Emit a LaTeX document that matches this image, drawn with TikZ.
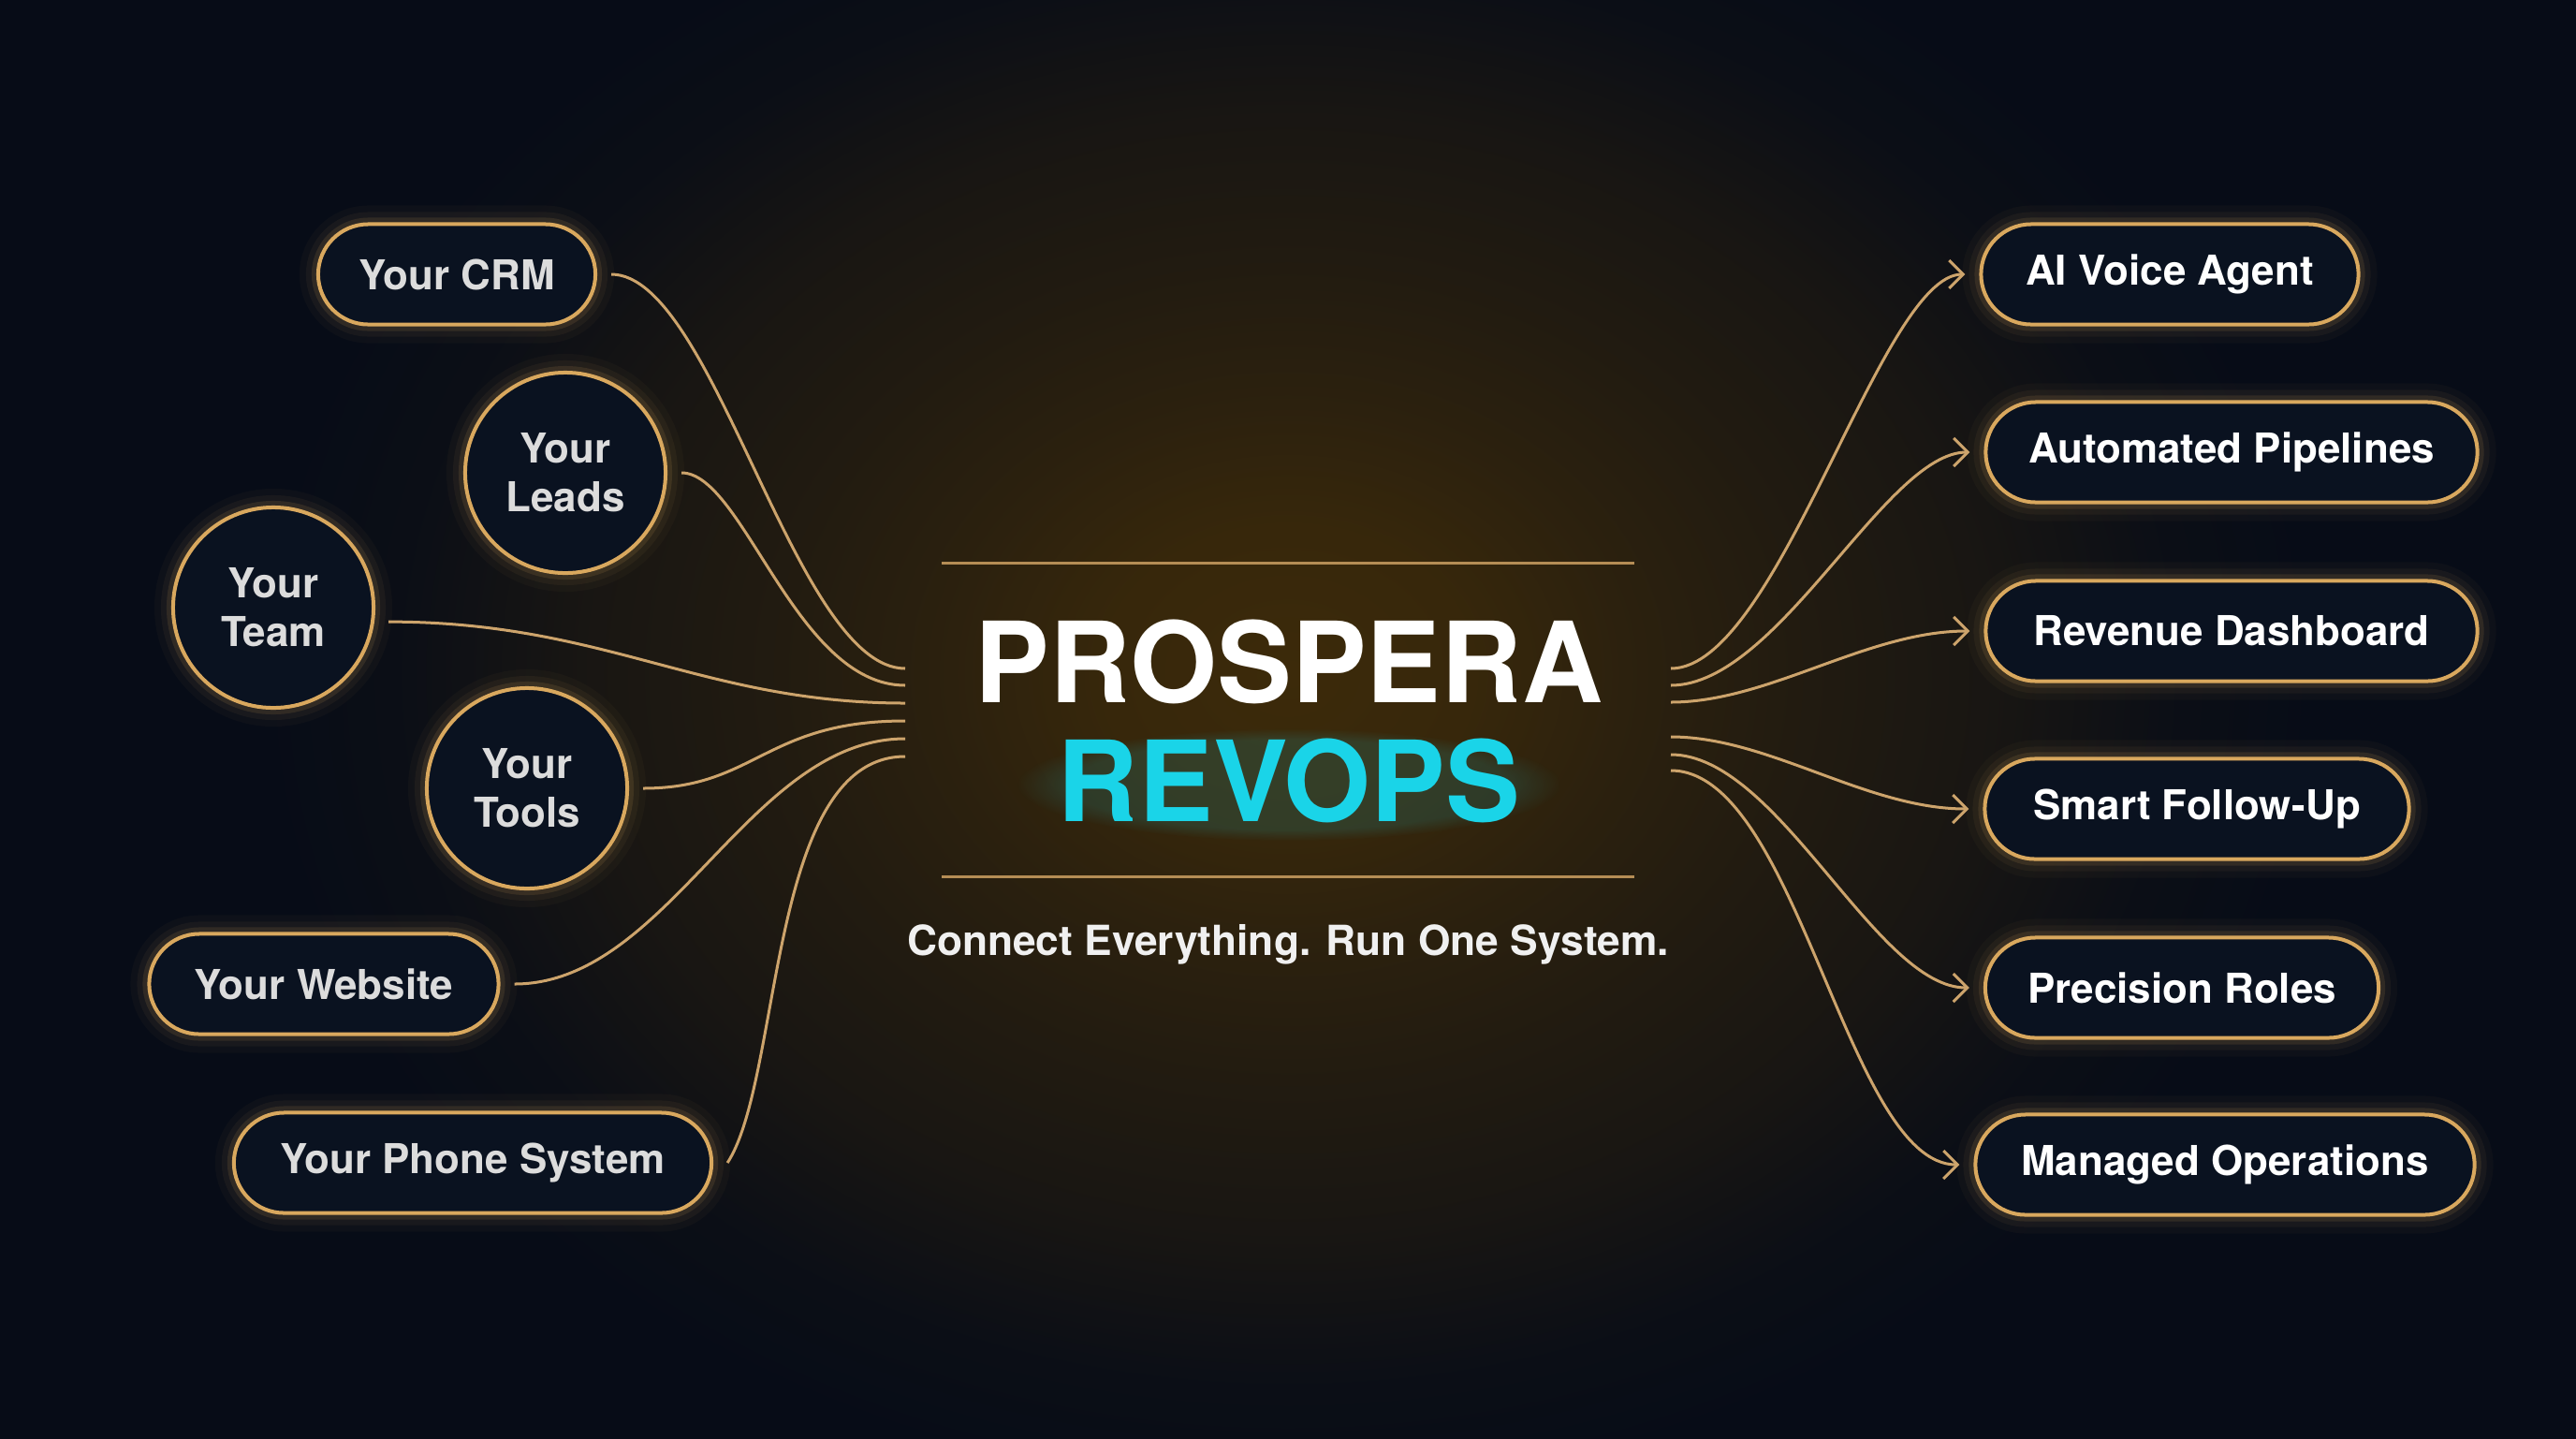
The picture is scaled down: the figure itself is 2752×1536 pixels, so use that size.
\documentclass[tikz,border=0pt]{standalone}
\usepackage{fontspec}
\setmainfont{TeX Gyre Heros}
\usetikzlibrary{arrows.meta,fadings}
\definecolor{bgc}{HTML}{070C17}
\definecolor{glowc}{HTML}{3C2A0A}
\definecolor{gold}{HTML}{D9A85E}
\definecolor{linec}{HTML}{CDA46C}
\definecolor{divc}{HTML}{B58D55}
\definecolor{nodefill}{HTML}{0A1220}
\definecolor{lefttext}{HTML}{DCDCDC}
\definecolor{cyanc}{HTML}{1AD4E8}
\pgfdeclareradialshading{warmglow}{\pgfpoint{0bp}{0bp}}{color(0bp)=(glowc); color(4bp)=(glowc!90!bgc); color(7.5bp)=(glowc!68!bgc); color(11bp)=(glowc!50!bgc); color(15bp)=(glowc!33!bgc); color(19bp)=(glowc!8!bgc); color(22bp)=(bgc); color(50bp)=(bgc)}
\newcommand\nfont{\fontsize{12.5}{14.8}\selectfont\bfseries}
\newcommand\tfont{\fontsize{34}{40}\selectfont\bfseries}
\newcommand\sfont{\fontsize{12.6}{16}\selectfont\bfseries}
\tikzset{
  glow/.style={preaction={draw=gold,line width=0.40cm,opacity=0.035},
               preaction={draw=gold,line width=0.26cm,opacity=0.06},
               preaction={draw=gold,line width=0.14cm,opacity=0.12}},
  pill/.style={glow, draw=gold, line width=0.04cm, fill=nodefill, rounded corners=0.535cm,
               minimum height=1.07cm, inner xsep=0pt, outer sep=0.17cm, font=\nfont},
  circ/.style={glow, circle, draw=gold, line width=0.04cm, fill=nodefill, minimum size=2.14cm,
               inner sep=0pt, outer sep=0.17cm, align=center, font=\nfont, text=lefttext},
  lnode/.style={pill, text=lefttext},
  rnode/.style={pill, text=white},
  conn/.style={draw=linec, line width=0.03cm},
  arr/.style={conn, -{Straight Barb[length=0.15cm,width=0.30cm]}},
  divider/.style={draw=divc, line width=0.03cm},
}
\begin{document}
\begin{tikzpicture}[x=0.01cm,y=-0.01cm]
\useasboundingbox (0,0) rectangle (2752,1536);
\fill[bgc] (-20,-20) rectangle (2772,1556);
\begin{scope}
  \clip (-20,-20) rectangle (2772,1556);
  \shade[shading=warmglow] (126,-280) rectangle (2626,1720);
\end{scope}

% left nodes
\node[lnode, minimum width=2.96cm] (crm) at (488,293) {Your CRM};
\node[circ] (leads) at (604,505) {Your\\Leads};
\node[circ] (team) at (292,649) {Your\\Team};
\node[circ] (tools) at (563,842) {Your\\Tools};
\node[lnode, minimum width=3.73cm] (web) at (346,1051) {Your Website};
\node[lnode, minimum width=5.10cm] (phone) at (505,1242) {Your Phone System};

% right nodes
\node[rnode, minimum width=4.03cm] (ai) at (2318,293) {AI Voice Agent};
\node[rnode, minimum width=5.25cm] (auto) at (2384,483) {Automated Pipelines};
\node[rnode, minimum width=5.25cm] (rev) at (2384,674) {Revenue Dashboard};
\node[rnode, minimum width=4.53cm] (smart) at (2347,864) {Smart Follow-Up};
\node[rnode, minimum width=4.20cm] (prec) at (2331,1055) {Precision Roles};
\node[rnode, minimum width=5.33cm] (man) at (2377,1244) {Managed Operations};

% hub ends
\coordinate (l1) at (967,714);
\coordinate (l2) at (967,732);
\coordinate (l3) at (967,751);
\coordinate (l4) at (967,770);
\coordinate (l5) at (967,789);
\coordinate (l6) at (967,808);
\coordinate (r1) at (1785,714);
\coordinate (r2) at (1785,732);
\coordinate (r3) at (1785,750);
\coordinate (r4) at (1785,787);
\coordinate (r5) at (1785,806);
\coordinate (r6) at (1785,823);

% left connectors
\draw[conn] (crm.east) .. controls +(110,0) and +(-118,0) .. (l1);
\draw[conn] (leads.east) .. controls +(66,0) and +(-117,0) .. (l2);
\draw[conn] (team.-7) .. controls +(232,0) and +(-217,0) .. (l3);
\draw[conn] (tools.east) .. controls +(120,0) and +(-150,0) .. (l4);
\draw[conn] (web.east) .. controls +(165,0) and +(-167,0) .. (l5);
\draw[conn] (phone.east) .. controls +(59,-91) and +(-147,0) .. (l6);

% right connectors
\draw[arr] (r1) .. controls +(115,0) and +(-90,0) .. (ai.west);
\draw[arr] (r2) .. controls +(115,0) and +(-90,0) .. (auto.west);
\draw[arr] (r3) .. controls +(105,0) and +(-110,0) .. (rev.west);
\draw[arr] (r4) .. controls +(105,0) and +(-110,0) .. (smart.west);
\draw[arr] (r5) .. controls +(115,0) and +(-100,0) .. (prec.west);
\draw[arr] (r6) .. controls +(135,0) and +(-120,0) .. (man.west);

% dividers
\coordinate (d1a) at (1006,601);
\coordinate (d1b) at (1746,601);
\coordinate (d2a) at (1006,936);
\coordinate (d2b) at (1746,936);
\draw[divider] (d1a) -- (d1b);
\draw[divider] (d2a) -- (d2b);

% title
\node[font=\tfont, text=white, anchor=base, inner sep=0pt] (title) at (1377,750) {PROSPERA};
\fill[cyanc, opacity=0.13, path fading=circle with fuzzy edge 20 percent] (1377,838) ellipse [x radius=2.9cm, y radius=0.6cm];
\node[font=\tfont, text=cyanc, anchor=base, inner sep=0pt] (revops) at (1377,877) {REVOPS};
\node[font=\sfont, text=white!94!black, anchor=base, inner sep=0pt] (sub) at (1376,1020) {Connect Everything. Run One System.};
\end{tikzpicture}
\end{document}
